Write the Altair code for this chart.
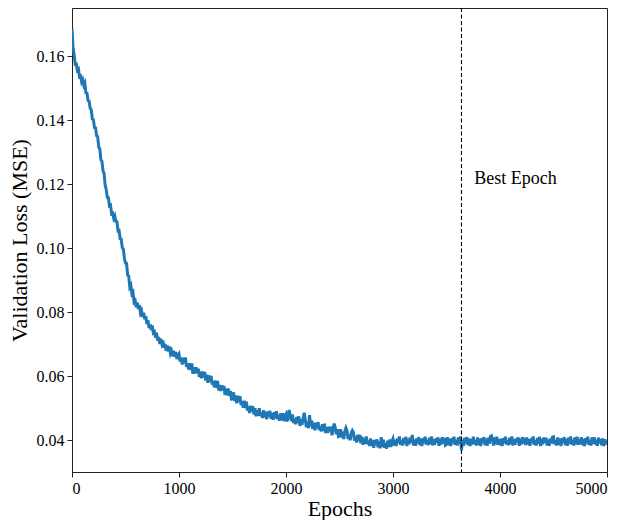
import altair as alt
import pandas as pd

# Epoch index of each sampled point (every 10 epochs)
epochs = list(range(0, 5001, 10))

# Validation loss, one list per 500 epochs
loss_0000 = [0.1685, 0.1624, 0.1604, 0.1574, 0.1575, 0.1555, 0.1559, 0.1535, 0.1537, 0.1519,
             0.1526, 0.1509, 0.1516, 0.1485, 0.1484, 0.1461, 0.1459, 0.1436, 0.1432, 0.1403,
             0.1401, 0.1376, 0.1375, 0.1351, 0.1348, 0.1315, 0.1310, 0.1276, 0.1271, 0.1241,
             0.1233, 0.1196, 0.1182, 0.1158, 0.1157, 0.1132, 0.1134, 0.1107, 0.1109, 0.1093,
             0.1100, 0.1083, 0.1082, 0.1054, 0.1055, 0.1029, 0.1028, 0.1001, 0.0996, 0.0968]
loss_0500 = [0.0953, 0.0952, 0.0915, 0.0913, 0.0878, 0.0884, 0.0857, 0.0862, 0.0831, 0.0835,
             0.0815, 0.0830, 0.0809, 0.0822, 0.0797, 0.0804, 0.0784, 0.0798, 0.0777, 0.0787,
             0.0762, 0.0774, 0.0750, 0.0762, 0.0744, 0.0758, 0.0735, 0.0738, 0.0720, 0.0735,
             0.0711, 0.0722, 0.0700, 0.0716, 0.0701, 0.0711, 0.0688, 0.0700, 0.0679, 0.0695,
             0.0677, 0.0692, 0.0670, 0.0678, 0.0662, 0.0679, 0.0660, 0.0675, 0.0653, 0.0664]
loss_1000 = [0.0669, 0.0645, 0.0658, 0.0636, 0.0657, 0.0640, 0.0658, 0.0629, 0.0639, 0.0620,
             0.0640, 0.0619, 0.0639, 0.0607, 0.0627, 0.0608, 0.0627, 0.0609, 0.0623, 0.0597,
             0.0614, 0.0593, 0.0614, 0.0595, 0.0613, 0.0586, 0.0604, 0.0579, 0.0602, 0.0583,
             0.0600, 0.0573, 0.0584, 0.0565, 0.0586, 0.0563, 0.0585, 0.0555, 0.0572, 0.0553,
             0.0571, 0.0556, 0.0569, 0.0541, 0.0561, 0.0540, 0.0561, 0.0538, 0.0553, 0.0528]
loss_1500 = [0.0529, 0.0549, 0.0522, 0.0539, 0.0515, 0.0538, 0.0520, 0.0537, 0.0509, 0.0521,
             0.0501, 0.0523, 0.0500, 0.0520, 0.0492, 0.0505, 0.0484, 0.0507, 0.0488, 0.0506,
             0.0480, 0.0499, 0.0474, 0.0493, 0.0476, 0.0499, 0.0475, 0.0486, 0.0469, 0.0493,
             0.0470, 0.0488, 0.0465, 0.0489, 0.0474, 0.0491, 0.0466, 0.0484, 0.0463, 0.0487,
             0.0468, 0.0490, 0.0465, 0.0478, 0.0460, 0.0484, 0.0462, 0.0484, 0.0459, 0.0475]
loss_2000 = [0.0481, 0.0458, 0.0473, 0.0494, 0.0475, 0.0460, 0.0480, 0.0453, 0.0466, 0.0449,
             0.0472, 0.0453, 0.0474, 0.0444, 0.0465, 0.0448, 0.0468, 0.0485, 0.0465, 0.0440,
             0.0457, 0.0437, 0.0478, 0.0442, 0.0461, 0.0435, 0.0454, 0.0430, 0.0454, 0.0437,
             0.0456, 0.0431, 0.0444, 0.0427, 0.0449, 0.0428, 0.0451, 0.0422, 0.0440, 0.0422,
             0.0441, 0.0428, 0.0442, 0.0415, 0.0436, 0.0451, 0.0439, 0.0418, 0.0434, 0.0411]
loss_2500 = [0.0413, 0.0434, 0.0408, 0.0426, 0.0403, 0.0427, 0.0438, 0.0429, 0.0403, 0.0417,
             0.0399, 0.0423, 0.0430, 0.0424, 0.0398, 0.0412, 0.0392, 0.0416, 0.0397, 0.0416,
             0.0390, 0.0410, 0.0385, 0.0405, 0.0388, 0.0411, 0.0387, 0.0398, 0.0381, 0.0405,
             0.0381, 0.0400, 0.0376, 0.0400, 0.0385, 0.0402, 0.0377, 0.0395, 0.0374, 0.0409,
             0.0379, 0.0401, 0.0376, 0.0390, 0.0373, 0.0398, 0.0378, 0.0402, 0.0378, 0.0396]
loss_3000 = [0.0404, 0.0383, 0.0400, 0.0381, 0.0405, 0.0391, 0.0411, 0.0385, 0.0399, 0.0383,
             0.0406, 0.0388, 0.0410, 0.0381, 0.0403, 0.0387, 0.0408, 0.0392, 0.0416, 0.0383,
             0.0401, 0.0382, 0.0405, 0.0389, 0.0409, 0.0384, 0.0404, 0.0381, 0.0406, 0.0390,
             0.0410, 0.0386, 0.0400, 0.0384, 0.0407, 0.0387, 0.0411, 0.0383, 0.0402, 0.0385,
             0.0405, 0.0393, 0.0408, 0.0382, 0.0404, 0.0386, 0.0409, 0.0389, 0.0406, 0.0384]
loss_3500 = [0.0387, 0.0409, 0.0384, 0.0403, 0.0381, 0.0406, 0.0390, 0.0410, 0.0385, 0.0400,
             0.0383, 0.0408, 0.0388, 0.0411, 0.0368, 0.0401, 0.0382, 0.0407, 0.0389, 0.0409,
             0.0384, 0.0405, 0.0381, 0.0402, 0.0386, 0.0410, 0.0387, 0.0399, 0.0383, 0.0408,
             0.0385, 0.0404, 0.0381, 0.0406, 0.0391, 0.0409, 0.0384, 0.0403, 0.0382, 0.0407,
             0.0388, 0.0411, 0.0413, 0.0400, 0.0383, 0.0408, 0.0387, 0.0410, 0.0385, 0.0402]
loss_4000 = [0.0384, 0.0404, 0.0381, 0.0406, 0.0390, 0.0410, 0.0386, 0.0400, 0.0384, 0.0407,
             0.0387, 0.0411, 0.0383, 0.0402, 0.0385, 0.0405, 0.0393, 0.0408, 0.0382, 0.0404,
             0.0386, 0.0409, 0.0389, 0.0406, 0.0384, 0.0408, 0.0386, 0.0402, 0.0382, 0.0405,
             0.0391, 0.0411, 0.0385, 0.0399, 0.0383, 0.0406, 0.0388, 0.0410, 0.0381, 0.0403,
             0.0387, 0.0408, 0.0392, 0.0407, 0.0383, 0.0401, 0.0382, 0.0405, 0.0389, 0.0409]
loss_4500 = [0.0410, 0.0387, 0.0399, 0.0383, 0.0408, 0.0385, 0.0404, 0.0381, 0.0406, 0.0391,
             0.0409, 0.0384, 0.0403, 0.0382, 0.0407, 0.0388, 0.0411, 0.0386, 0.0400, 0.0383,
             0.0408, 0.0387, 0.0410, 0.0385, 0.0402, 0.0387, 0.0409, 0.0384, 0.0403, 0.0381,
             0.0406, 0.0390, 0.0410, 0.0385, 0.0400, 0.0383, 0.0408, 0.0388, 0.0409, 0.0386,
             0.0401, 0.0382, 0.0407, 0.0389, 0.0403, 0.0384, 0.0405, 0.0381, 0.0402, 0.0386]
loss_5000 = [0.0398]

loss = (loss_0000 + loss_0500 + loss_1000 + loss_1500 + loss_2000 + loss_2500
        + loss_3000 + loss_3500 + loss_4000 + loss_4500 + loss_5000)
assert len(loss) == len(epochs)

best_epoch = [3640]
label_text = ["Best Epoch"]
label_epoch = [3760]
label_loss = [0.1215]

x_ticks = [0, 1000, 2000, 3000, 4000, 5000]
y_ticks = [0.04, 0.06, 0.08, 0.10, 0.12, 0.14, 0.16]

FONT = "Liberation Serif"

df = pd.DataFrame({"epoch": epochs, "loss": loss})

x_enc = alt.X(
    "epoch:Q",
    scale=alt.Scale(domain=[0, 5000], nice=False, zero=False),
    axis=alt.Axis(values=x_ticks, title="Epochs", format="d"),
)
y_enc = alt.Y(
    "loss:Q",
    scale=alt.Scale(domain=[0.03, 0.175], nice=False, zero=False),
    axis=alt.Axis(values=y_ticks, title="Validation Loss (MSE)", format=".2f"),
)

line = alt.Chart(df).mark_line(color="#1f77b4", strokeWidth=3, clip=True).encode(
    x=x_enc, y=y_enc
)

rule = alt.Chart(pd.DataFrame({"epoch": best_epoch})).mark_rule(
    color="black", strokeWidth=1.1, strokeDash=[4, 2.5]
).encode(x="epoch:Q")

text = alt.Chart(
    pd.DataFrame({"epoch": label_epoch, "loss": label_loss, "label": label_text})
).mark_text(
    align="left", baseline="middle", font=FONT, fontSize=18, color="black"
).encode(x="epoch:Q", y="loss:Q", text="label:N")

chart = (
    alt.layer(line, rule, text)
    .properties(
        width=535,
        height=464,
        autosize=alt.AutoSizeParams(type="none"),
        padding={"left": 64, "top": 0, "right": 11, "bottom": 48},
        background="white",
    )
    .configure_view(stroke="#222222", strokeWidth=1)
    .configure_axis(
        grid=False,
        domainColor="#222222",
        domainWidth=1,
        tickColor="#222222",
        tickSize=5,
        tickWidth=1,
        labelFont=FONT,
        labelFontSize=16,
        labelColor="black",
        labelPadding=3,
        titleFont=FONT,
        titleFontSize=22,
        titleFontWeight="normal",
        titleColor="black",
    )
    .configure_axisY(titlePadding=5)
    .configure_axisX(titlePadding=2)
)

chart.save("out.html", embed_options={"renderer": "svg", "actions": False})
